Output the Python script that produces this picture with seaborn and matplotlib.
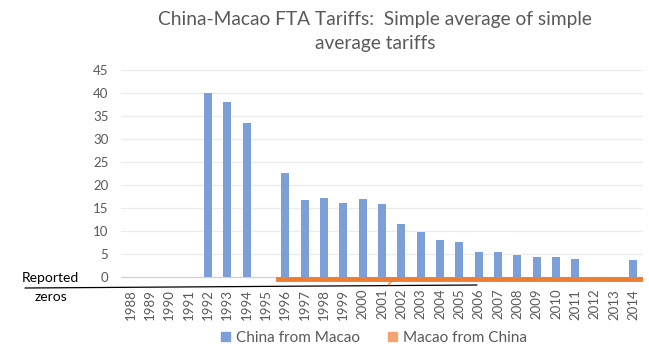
import numpy as np
import pandas as pd
import matplotlib
matplotlib.use("Agg")
import matplotlib.pyplot as plt
import matplotlib.lines as mlines
import matplotlib.patches as mpatches
import seaborn as sns

# Tariff data (simple average of simple average tariffs, %)
years = [str(y) for y in range(1988, 2015)]
china_from_macao = [np.nan, np.nan, np.nan, np.nan, 40.0, 38.1, 33.5, np.nan,
                    22.6, 16.7, 17.2, 16.1, 17.0, 15.9, 11.6, 9.9, 8.1, 7.75,
                    5.4, 5.4, 4.9, 4.5, 4.3, 3.9, np.nan, np.nan, 3.7]
# Reported zeros, drawn as a thin band just below the axis
macao_from_china = [np.nan] * 8 + [-0.7] * 19

blue = "#7b9fd6"
orange = "#ed7d31"
grey = "#595959"

sns.set_theme(style="white")
plt.rcParams["font.family"] = ["Lato", "DejaVu Sans"]

df = pd.DataFrame({"year": years,
                   "China from Macao": china_from_macao,
                   "Macao from China": macao_from_china})

fig = plt.figure(figsize=(6.49, 3.51), dpi=100)
ax = fig.add_axes([0.1864, 0.1969, 0.8044, 0.6037])

sns.barplot(data=df, x="year", y="Macao from China", order=years,
            color=orange, width=1.0, saturation=1, ax=ax,
            linewidth=0.6, edgecolor=orange)
sns.barplot(data=df, x="year", y="China from Macao", order=years,
            color=blue, width=0.4, saturation=1, ax=ax, linewidth=0)

ax.set_xlim(-0.5, len(years) - 0.5)
ax.set_ylim(-1, 45)
ax.set_yticks(range(0, 50, 5))
for y in range(5, 50, 5):
    ax.axhline(y, color="#ececec", lw=0.9, zorder=0)
ax.axhline(0, color="#d0d0d0", lw=0.9, zorder=0.5)
for s in ax.spines.values():
    s.set_visible(False)
ax.set_xlabel("")
ax.set_ylabel("")
ax.tick_params(axis="y", length=0, pad=9, labelsize=9.5, labelcolor=grey)
ax.tick_params(axis="x", length=0, pad=5, labelsize=9.5, labelcolor=grey,
               rotation=90)

fig.text(0.578, 0.945, "China-Macao FTA Tariffs:  Simple average of simple",
         ha="center", va="center", fontsize=13.8, color=grey)
fig.text(0.578, 0.875, "average tariffs",
         ha="center", va="center", fontsize=13.8, color=grey)

# "Reported zeros" callout
fig.text(0.034, 0.208, "Reported", fontsize=10, color="black", va="center")
fig.text(0.054, 0.153, "zeros", fontsize=10, color="black", va="center")
fig.add_artist(mlines.Line2D([25 / 649, 477 / 649], [1 - 288 / 351, 1 - 285 / 351],
                             color="black", lw=0.9, transform=fig.transFigure))
fig.add_artist(mlines.Line2D([388 / 649, 394 / 649], [1 - 285 / 351, 1 - 279 / 351],
                             color=orange, lw=0.9, transform=fig.transFigure))

handles = [mpatches.Patch(color=blue, label="China from Macao"),
           mpatches.Patch(color="#f4a46e", label="Macao from China")]
fig.legend(handles=handles, loc="center", bbox_to_anchor=(0.576, 0.037),
           ncol=2, frameon=False, fontsize=11, labelcolor=grey,
           handlelength=0.6, handleheight=0.6, handletextpad=0.4,
           columnspacing=1.8)

fig.savefig("out.png", dpi=100)
